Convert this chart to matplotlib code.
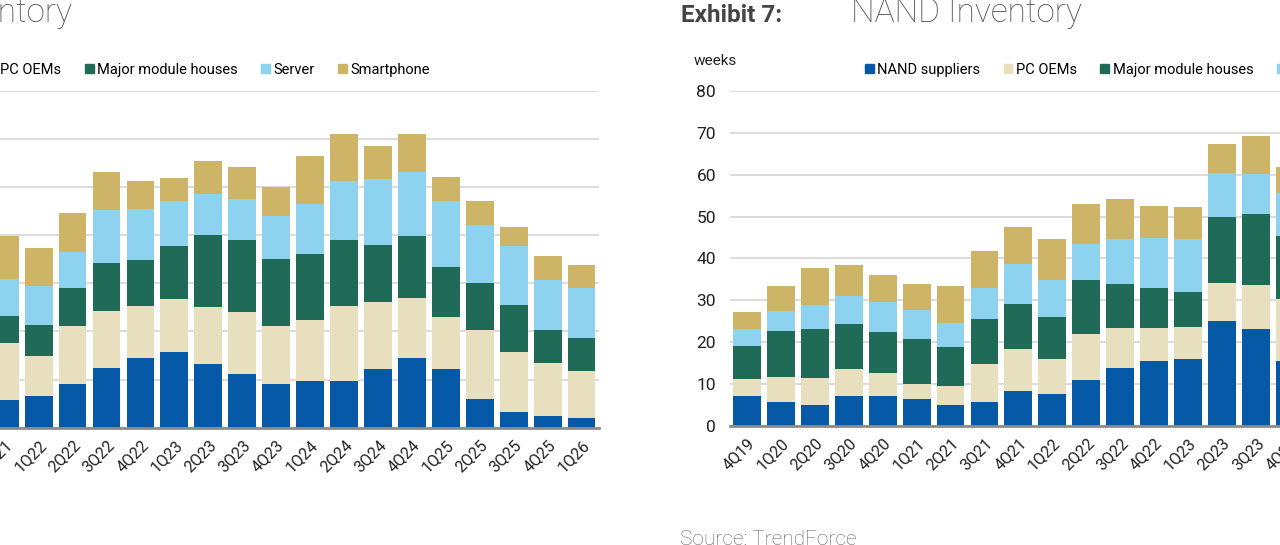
import matplotlib
matplotlib.use('Agg')
import matplotlib.pyplot as plt
from matplotlib.patches import Patch
import numpy as np

# DRAM inventory (left, cropped)
dram_quarters = ['4Q21', '1Q22', '2Q22', '3Q22', '4Q22', '1Q23', '2Q23', '3Q23', '4Q23',
                 '1Q24', '2Q24', '3Q24', '4Q24', '1Q25', '2Q25', '3Q25', '4Q25', '1Q26']
dram_suppliers = [5.8, 6.5, 9.1, 12.5, 14.5, 15.7, 13.2, 11.1, 9.1, 9.8, 9.8, 12.1, 14.5, 12.1, 5.9, 3.2, 2.5, 2.1]
dram_pc = [11.9, 8.5, 12.0, 11.8, 10.9, 11.1, 11.8, 13.0, 12.0, 12.5, 15.5, 14.0, 12.5, 11.0, 14.4, 12.5, 10.9, 9.6]
dram_module = [5.5, 6.4, 7.9, 10.0, 9.4, 10.9, 15.0, 14.9, 13.9, 13.8, 13.8, 11.8, 12.8, 10.4, 9.8, 9.8, 6.9, 6.9]
dram_server = [7.7, 8.0, 7.6, 10.9, 10.6, 9.4, 8.6, 8.5, 9.1, 10.5, 12.1, 13.8, 13.4, 13.7, 12.1, 12.3, 10.5, 10.4]
dram_phone = [9.0, 8.0, 8.0, 7.9, 5.8, 4.9, 6.8, 6.8, 6.0, 9.8, 9.9, 6.9, 7.9, 4.9, 4.9, 4.0, 5.0, 4.8]

# NAND inventory (right, cropped)
nand_quarters = ['4Q19', '1Q20', '2Q20', '3Q20', '4Q20', '1Q21', '2Q21', '3Q21', '4Q21',
                 '1Q22', '2Q22', '3Q22', '4Q22', '1Q23', '2Q23', '3Q23', '4Q23']
nand_suppliers = [7.1, 5.6, 5.0, 7.0, 7.0, 6.5, 4.9, 5.7, 8.4, 7.5, 10.9, 13.8, 15.4, 16.0, 25.1, 23.2, 15.5]
nand_pc = [4.1, 6.0, 6.5, 6.5, 5.5, 3.5, 4.6, 9.0, 10.0, 8.4, 11.0, 9.5, 7.9, 7.5, 9.0, 10.5, 14.9]
nand_module = [7.8, 11.0, 11.5, 10.9, 9.9, 10.8, 9.3, 10.9, 10.8, 10.0, 12.9, 10.5, 9.5, 8.4, 15.9, 17.0, 15.0]
nand_server = [4.2, 4.9, 5.8, 6.6, 7.2, 6.8, 5.7, 7.2, 9.4, 8.9, 8.6, 10.8, 12.0, 12.7, 10.3, 9.5, 10.3]
nand_phone = [3.9, 5.9, 9.0, 7.5, 6.4, 6.3, 9.0, 9.0, 8.8, 9.8, 9.6, 9.6, 7.6, 7.6, 7.1, 9.0, 6.1]

colors = ['#0659a6', '#e8dfbe', '#1f6b57', '#8dd3f0', '#ceb466']
FONT = ['Roboto', 'DejaVu Sans']
W, H = 1280, 545


def px(x, y):
    """ pixel (from top-left) -> figure fraction """
    return x / W, (H - y) / H


def stacked(ax, quarters, series, ymax, show_y=True):
    x = np.arange(len(quarters))
    bottom = np.zeros(len(quarters))
    for vals, c in zip(series, colors):
        ax.bar(x, vals, bottom=bottom, width=0.82, color=c, zorder=3)
        bottom += np.array(vals)
    ax.set_xlim(-0.5, len(quarters) - 0.5)
    ax.set_ylim(0, ymax)
    ax.set_yticks(np.arange(0, ymax + 1, 10))
    ax.yaxis.grid(True, color='#d9d9d9', lw=1.3, zorder=0)
    for s in ['top', 'right', 'left']:
        ax.spines[s].set_visible(False)
    ax.spines['bottom'].set_color('#8c8c8c')
    ax.spines['bottom'].set_linewidth(2)
    ax.spines['bottom'].set_zorder(4)
    ax.set_xticks(x)
    ax.set_xticklabels(quarters, rotation=45, ha='right', rotation_mode='anchor',
                       family=FONT, fontsize=11.5, color='#222222')
    ax.tick_params(axis='x', length=0, pad=7)
    ax.tick_params(axis='y', length=0, pad=10, labelsize=12.5, labelcolor='#222222',
                   labelleft=show_y)
    for t in ax.get_yticklabels():
        t.set_family(FONT)


fig = plt.figure(figsize=(12.8, 5.45), dpi=100)

step = 33.93
# left axes: right edge at 598.5 px, y labels lie outside the crop
l_left = 598.5 - len(dram_quarters) * step
x0, y0 = px(l_left, 427.7)
x1, y1 = px(598.5, 91)
ax_d = fig.add_axes([x0, y0, x1 - x0, y1 - y0])
stacked(ax_d, dram_quarters, [dram_suppliers, dram_pc, dram_module, dram_server, dram_phone],
        70, show_y=False)

x0, y0 = px(730, 425.7)
x1, y1 = px(730 + len(nand_quarters) * step, 91)
ax_n = fig.add_axes([x0, y0, x1 - x0, y1 - y0])
stacked(ax_n, nand_quarters, [nand_suppliers, nand_pc, nand_module, nand_server, nand_phone], 80)

# legends
dram_labels = ['DRAM suppliers', 'PC OEMs', 'Major module houses', 'Server', 'Smartphone']
nand_labels = ['NAND suppliers', 'PC OEMs', 'Major module houses', 'Server', 'Smartphone']
for ax, labels, anchor, loc in [(ax_d, dram_labels, px(430, 70), 'center right'),
                                (ax_n, nand_labels, px(865, 70), 'center left')]:
    handles = [Patch(color=c, label=l) for c, l in zip(colors, labels)]
    ax.legend(handles=handles, ncol=5, loc=loc, bbox_to_anchor=anchor,
              bbox_transform=fig.transFigure, frameon=False, borderpad=0,
              borderaxespad=0, handlelength=0.6, handleheight=0.6,
              handletextpad=0.25, columnspacing=1.6,
              prop={'family': FONT, 'size': 10.5})

# titles
fig.text(*px(72, 22), 'DRAM Inventory', ha='right', va='baseline', family='Roboto',
         fontweight='light', fontsize=24, color='#555555')
fig.text(*px(681, 22), 'Exhibit 7:', ha='left', va='baseline', family='Roboto',
         fontweight='bold', fontsize=17.5, color='#444444')
fig.text(*px(851, 22), 'NAND Inventory', ha='left', va='baseline', family='Roboto',
         fontweight='light', fontsize=24, color='#555555')
fig.text(*px(694, 61), 'weeks', ha='left', va='center', family=FONT, fontsize=11, color='#222222')
fig.text(*px(680, 530), 'Source: TrendForce', ha='left', va='top', family='Roboto',
         fontweight='light', fontsize=15, color='#666666')

fig.savefig('out.png', dpi=100)
